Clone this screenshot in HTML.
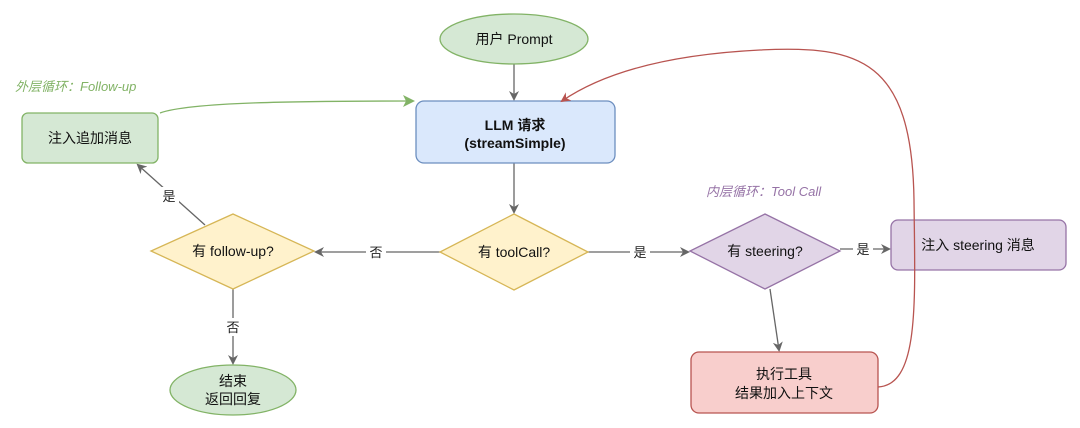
<!DOCTYPE html>
<html><head><meta charset="utf-8"><style>
html,body{margin:0;padding:0;background:#fff;}
svg{display:block;font-family:"Liberation Sans","Noto Sans CJK SC",sans-serif;}
</style></head><body>
<svg width="1080" height="428" viewBox="0 0 1080 428" xmlns="http://www.w3.org/2000/svg">
<defs>
<marker id="ag" markerWidth="10" markerHeight="10" refX="8" refY="5" orient="auto" markerUnits="userSpaceOnUse"><path d="M0,0 L10,5 L0,10 L3,5 Z" fill="#666"/></marker>
<marker id="agr" markerWidth="12" markerHeight="12" refX="10" refY="6" orient="auto" markerUnits="userSpaceOnUse"><path d="M0,0 L12,6 L0,12 L3,6 Z" fill="#82b366"/></marker>
<marker id="ar" markerWidth="10" markerHeight="10" refX="8" refY="5" orient="auto" markerUnits="userSpaceOnUse"><path d="M0,0 L10,5 L0,10 L3,5 Z" fill="#b85450"/></marker>
</defs>
<!-- edges -->
<line x1="514" y1="64" x2="514" y2="99" stroke="#666" stroke-width="1.3" marker-end="url(#ag)"/>
<line x1="514" y1="163" x2="514" y2="212" stroke="#666" stroke-width="1.3" marker-end="url(#ag)"/>
<line x1="440" y1="252" x2="316" y2="252" stroke="#666" stroke-width="1.3" marker-end="url(#ag)"/>
<rect x="366" y="243" width="20" height="18" fill="#fff"/>
<text x="376" y="257" font-size="13" text-anchor="middle" fill="#222">否</text>
<line x1="588" y1="252" x2="688" y2="252" stroke="#666" stroke-width="1.3" marker-end="url(#ag)"/>
<rect x="630" y="243" width="20" height="18" fill="#fff"/>
<text x="640" y="257" font-size="13" text-anchor="middle" fill="#222">是</text>
<line x1="205" y1="225" x2="138" y2="165" stroke="#666" stroke-width="1.3" marker-end="url(#ag)"/>
<rect x="159" y="187" width="20" height="18" fill="#fff"/>
<text x="169" y="201" font-size="13" text-anchor="middle" fill="#222">是</text>
<line x1="233" y1="289" x2="233" y2="363" stroke="#666" stroke-width="1.3" marker-end="url(#ag)"/>
<rect x="223" y="318" width="20" height="18" fill="#fff"/>
<text x="233" y="332" font-size="13" text-anchor="middle" fill="#222">否</text>
<line x1="770" y1="289" x2="779" y2="350" stroke="#666" stroke-width="1.3" marker-end="url(#ag)"/>
<line x1="840" y1="249" x2="889" y2="249" stroke="#666" stroke-width="1.3" marker-end="url(#ag)"/>
<rect x="853" y="240" width="20" height="18" fill="#fff"/>
<text x="863" y="254" font-size="13" text-anchor="middle" fill="#222">是</text>
<path d="M160,113 C190,102 300,101 413,101" fill="none" stroke="#82b366" stroke-width="1.3" marker-end="url(#agr)"/>
<!-- labels -->
<text x="15" y="91" font-size="13" font-style="italic" fill="#82b366">外层循环：Follow-up</text>
<text x="706" y="196" font-size="13" font-style="italic" fill="#9673a6">内层循环：Tool Call</text>
<!-- nodes -->
<ellipse cx="514" cy="39" rx="74" ry="25" fill="#d5e8d4" stroke="#82b366" stroke-width="1.3"/>
<text x="514" y="44" font-size="14" text-anchor="middle" fill="#111">用户 Prompt</text>
<rect x="416" y="101" width="199" height="62" rx="8" fill="#dae8fc" stroke="#6c8ebf" stroke-width="1.3"/>
<text x="515" y="130" font-size="14" font-weight="bold" text-anchor="middle" fill="#111">LLM 请求</text>
<text x="515" y="148" font-size="14" font-weight="bold" text-anchor="middle" fill="#111">(streamSimple)</text>
<rect x="22" y="113" width="136" height="50" rx="6" fill="#d5e8d4" stroke="#82b366" stroke-width="1.3"/>
<text x="90" y="143" font-size="14" text-anchor="middle" fill="#111">注入追加消息</text>
<polygon points="514,214 588,252 514,290 440,252" fill="#fff2cc" stroke="#d6b656" stroke-width="1.3"/>
<text x="514" y="257" font-size="14" text-anchor="middle" fill="#111">有 toolCall?</text>
<polygon points="233,214 314,251 233,289 151,251" fill="#fff2cc" stroke="#d6b656" stroke-width="1.3"/>
<text x="233" y="256" font-size="14" text-anchor="middle" fill="#111">有 follow-up?</text>
<polygon points="765,214 840,251 765,289 690,251" fill="#e1d5e7" stroke="#9673a6" stroke-width="1.3"/>
<text x="765" y="256" font-size="14" text-anchor="middle" fill="#111">有 steering?</text>
<rect x="891" y="220" width="175" height="50" rx="7" fill="#e1d5e7" stroke="#9673a6" stroke-width="1.3"/>
<text x="978" y="250" font-size="14" text-anchor="middle" fill="#111">注入 steering 消息</text>
<rect x="691" y="352" width="187" height="61" rx="8" fill="#f8cecc" stroke="#b85450" stroke-width="1.3"/>
<text x="784" y="379" font-size="14" text-anchor="middle" fill="#111">执行工具</text>
<text x="784" y="398" font-size="14" text-anchor="middle" fill="#111">结果加入上下文</text>
<ellipse cx="233" cy="390" rx="63" ry="25" fill="#d5e8d4" stroke="#82b366" stroke-width="1.3"/>
<text x="233" y="386" font-size="14" text-anchor="middle" fill="#111">结束</text>
<text x="233" y="404" font-size="14" text-anchor="middle" fill="#111">返回回复</text>
<!-- red loop on top -->
<path d="M878,387 C920,385 915,300 914,200 C912,60 860,45 760,50 C660,55 600,75 562,101" fill="none" stroke="#b85450" stroke-width="1.3" marker-end="url(#ar)"/>
</svg>
</body></html>
